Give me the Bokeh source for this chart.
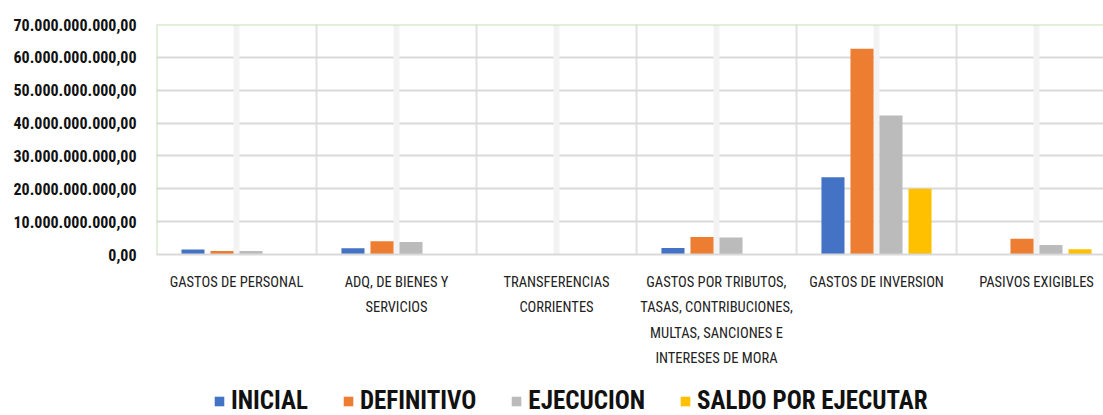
from bokeh.plotting import figure
from bokeh.layouts import column
from bokeh.models import Range1d, FixedTicker, Legend, LegendItem, Span, Grid, ColumnDataSource
from bokeh.transform import dodge
from bokeh.embed import file_html
from bokeh.resources import INLINE

categories = [
    "GASTOS DE PERSONAL",
    "ADQ, DE BIENES Y\nSERVICIOS",
    "TRANSFERENCIAS\nCORRIENTES",
    "GASTOS POR TRIBUTOS,\nTASAS, CONTRIBUCIONES,\nMULTAS, SANCIONES E\nINTERESES DE MORA",
    "GASTOS DE INVERSION",
    "PASIVOS EXIGIBLES",
]
inicial = [1.5e9, 1.9e9, 0.0, 2.0e9, 23.5e9, 0.0]
definitivo = [1.1e9, 4.0e9, 0.0, 5.3e9, 62.6e9, 4.8e9]
ejecucion = [1.1e9, 3.8e9, 0.0, 5.2e9, 42.3e9, 2.9e9]
saldo = [0.0, 0.1e9, 0.0, 0.0, 20.0e9, 1.6e9]
series_names = ["INICIAL", "DEFINITIVO", "EJECUCION", "SALDO POR EJECUTAR"]
colors = ["#4472C4", "#ED7D31", "#BBBBBB", "#FFC000"]
y_ticks = [0, 10e9, 20e9, 30e9, 40e9, 50e9, 60e9, 70e9]
y_tick_labels = ["0,00", "10.000.000.000,00", "20.000.000.000,00", "30.000.000.000,00",
                 "40.000.000.000,00", "50.000.000.000,00", "60.000.000.000,00", "70.000.000.000,00"]

centers = [i + 0.5 for i in range(len(categories))]
bounds = [float(i) for i in range(len(categories) + 1)]

src = ColumnDataSource(dict(x=centers, inicial=inicial, definitivo=definitivo,
                            ejecucion=ejecucion, saldo=saldo))
cols = ["inicial", "definitivo", "ejecucion", "saldo"]

W = 1103
H1, H2 = 375, 40
left, top, frame_h = 156, 24, 230
p = figure(width=W, height=H1, output_backend="svg", toolbar_location=None,
           x_range=Range1d(0, (W - left) / 160.0), y_range=Range1d(0, 70e9),
           min_border_left=left, min_border_right=0, min_border_top=top,
           min_border_bottom=H1 - top - frame_h)
p.outline_line_color = None
p.background_fill_color = "white"

# grids
p.ygrid.ticker = FixedTicker(ticks=y_ticks)
p.ygrid.grid_line_color = "#d9d9d9"
p.ygrid.grid_line_width = 2
p.xgrid.ticker = FixedTicker(ticks=bounds)
p.xgrid.grid_line_color = "#e0e0e0"
p.xgrid.grid_line_width = 2
band = Grid(dimension=0, ticker=FixedTicker(ticks=centers), grid_line_color="#f3f3f3", grid_line_width=6)
p.add_layout(band)

p.add_layout(Span(location=70e9, dimension="width", line_color="#c5e0b4", line_width=2))
p.add_layout(Span(location=0, dimension="height", line_color="#c5e0b4", line_width=2))

offsets = [-0.272, -0.0906, 0.0906, 0.272]
for c, off, col in zip(cols, offsets, colors):
    p.vbar(x=dodge("x", off, range=p.x_range), top=c, width=0.144, source=src,
           fill_color=col, line_color=None)

# axes
xa = p.xaxis[0]
xa.ticker = FixedTicker(ticks=centers)
xa.major_label_overrides = {c: lab for c, lab in zip(centers, categories)}
xa.axis_line_color = "#d9d9d9"
xa.axis_line_width = 2
xa.major_tick_line_color = None
xa.minor_tick_line_color = None
xa.major_label_standoff = 13
xa.major_label_text_font = "Roboto Condensed"
xa.major_label_text_font_size = "14.5px"
xa.major_label_text_color = "#222222"
xa.major_label_text_line_height = 1.5

ya = p.yaxis[0]
ya.ticker = FixedTicker(ticks=y_ticks)
ya.major_label_overrides = {t: lab for t, lab in zip(y_ticks, y_tick_labels)}
ya.axis_line_color = None
ya.major_tick_line_color = None
ya.minor_tick_line_color = None
ya.major_tick_out = 0
ya.major_label_standoff = 20
ya.major_label_text_font = "Roboto Condensed"
ya.major_label_text_font_style = "bold"
ya.major_label_text_font_size = "16px"
ya.major_label_text_color = "#111111"

# legend strip (its bars lie below the visible range, only the legend swatches show)
p2 = figure(width=W, height=H2, output_backend="svg", toolbar_location=None,
            x_range=Range1d(0, 6), y_range=Range1d(1e12, 2e12),
            x_axis_location=None, y_axis_location=None,
            min_border_left=0, min_border_right=0, min_border_top=0, min_border_bottom=0)
p2.outline_line_color = None
p2.xgrid.visible = False
p2.ygrid.visible = False
items = []
for c, col, name in zip(cols, colors, series_names):
    r = p2.vbar(x="x", top=c, width=0.1, source=src, fill_color=col, line_color=None)
    items.append(LegendItem(label=name, renderers=[r]))
legend = Legend(items=items, orientation="horizontal", location=(57, 0),
                label_text_font="Roboto Condensed", label_text_font_style="bold",
                label_text_font_size="25px", label_text_color="#111111",
                glyph_width=12, glyph_height=12, label_standoff=6, spacing=34,
                padding=0, margin=0, border_line_color=None, background_fill_alpha=0)
p2.add_layout(legend)

open("out.html", "w").write(file_html(column(p, p2, spacing=0), INLINE))
